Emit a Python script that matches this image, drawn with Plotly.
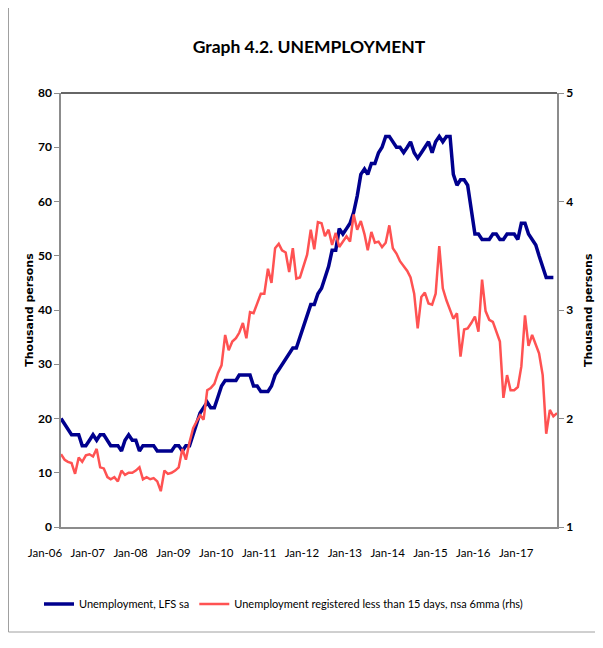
import pandas as pd
import plotly.graph_objects as go

# months from Jan-06
months = pd.date_range("2006-01-01", periods=140, freq="MS")

# Unemployment, LFS sa (thousand persons, lhs)
lfs_sa = [20, 19, 18, 17, 17, 17, 15, 15, 16, 17, 16, 17, 17, 16, 15, 15, 15, 14, 16, 17,
          16, 16, 14, 15, 15, 15, 15, 14, 14, 14, 14, 14, 15, 15, 14, 15, 15, 17, 19, 21,
          22, 23, 22, 22, 24, 26, 27, 27, 27, 27, 28, 28, 28, 28, 26, 26, 25, 25, 25, 26,
          28, 29, 30, 31, 32, 33, 33, 35, 37, 39, 41, 41, 43, 44, 46, 48, 51, 51, 55, 54,
          55, 56, 58, 61, 65, 66, 65, 67, 67, 69, 70, 72, 72, 71, 70, 70, 69, 70, 71, 69,
          68, 69, 70, 71, 69, 71, 72, 71, 72, 72, 65, 63, 64, 64, 63, 58, 54, 54, 53, 53,
          53, 54, 54, 53, 53, 54, 54, 54, 53, 56, 56, 54, 53, 52, 50, 48, 46, 46, 46]

# Unemployment registered less than 15 days, nsa 6mma (thousand persons, rhs)
reg_15d = [1.67, 1.62, 1.60, 1.59, 1.49, 1.64, 1.60, 1.66, 1.67, 1.65, 1.72, 1.55, 1.54, 1.46,
           1.44, 1.46, 1.42, 1.52, 1.48, 1.50, 1.50, 1.52, 1.55, 1.44, 1.46, 1.44, 1.45, 1.42,
           1.33, 1.52, 1.49, 1.50, 1.52, 1.55, 1.72, 1.62, 1.78, 1.91, 1.97, 2.03, 1.99, 2.26,
           2.28, 2.32, 2.42, 2.49, 2.77, 2.63, 2.71, 2.74, 2.79, 2.88, 2.74, 2.98, 2.97, 3.06,
           3.15, 3.15, 3.38, 3.25, 3.57, 3.61, 3.55, 3.53, 3.35, 3.57, 3.29, 3.30, 3.40, 3.51,
           3.74, 3.56, 3.81, 3.80, 3.68, 3.74, 3.60, 3.71, 3.58, 3.63, 3.68, 3.63, 3.88, 3.74,
           3.82, 3.70, 3.55, 3.72, 3.62, 3.63, 3.58, 3.62, 3.78, 3.57, 3.52, 3.45, 3.40, 3.36,
           3.30, 3.15, 2.83, 3.12, 3.16, 3.06, 3.05, 3.15, 3.59, 3.20, 3.09, 3.00, 2.92, 2.97,
           2.57, 2.82, 2.83, 2.88, 2.94, 2.80, 3.28, 2.99, 2.91, 2.89, 2.80, 2.71, 2.19, 2.40,
           2.26, 2.26, 2.29, 2.48, 2.95, 2.67, 2.77, 2.68, 2.60, 2.40, 1.86, 2.08, 2.02, 2.05]

tick_dates = pd.date_range("2006-01-01", "2017-01-01", freq="YS")
tick_text = ["Jan-%02d" % (d.year % 100) for d in tick_dates]

cal = "Lato, Noto Sans, sans-serif"

fig = go.Figure()
fig.add_trace(go.Scatter(x=months[:len(lfs_sa)], y=lfs_sa, mode="lines",
                         name="Unemployment, LFS sa",
                         line=dict(color="#00008e", width=3.5)))
fig.add_trace(go.Scatter(x=months, y=reg_15d, mode="lines", yaxis="y2",
                         name="Unemployment registered less than 15 days, nsa 6mma (rhs)",
                         line=dict(color="#ff5252", width=2.5)))

# page body adds 8px, so margins are 8px smaller on top/left
fig.update_layout(
    width=603, height=648,
    margin=dict(l=53, r=54, t=85, b=129, autoexpand=False),
    paper_bgcolor="white", plot_bgcolor="white",
    title=dict(text="Graph 4.2. UNEMPLOYMENT", x=0.5, xanchor="center",
               xref="paper",
               y=1 - 39 / 648, yanchor="middle", yref="container",
               font=dict(family=cal, size=17.5, color="black", weight="bold")),
    xaxis=dict(type="date", range=[months[0], months[-1]],
               tickvals=tick_dates, ticktext=tick_text, ticks="",
               ticklabelshift=-16, ticklabelstandoff=14,
               tickfont=dict(family=cal, size=11.5, color="black"),
               showgrid=False, showline=True, linecolor="#8c8c8c", linewidth=1.5,
               zeroline=False, automargin=False),
    yaxis=dict(range=[0, 80], dtick=10, ticks="outside", ticklen=5,
               tickcolor="#8c8c8c", showgrid=False, zeroline=False,
               showline=True, linecolor="#8c8c8c", linewidth=1.5, automargin=False,
               tickfont=dict(family=cal, size=12, color="black", weight="bold"),
               title=dict(text="Thousand persons", standoff=2,
                          font=dict(family="DejaVu Sans", size=11, color="black",
                                    weight="bold"))),
    yaxis2=dict(range=[1, 5], dtick=1, overlaying="y", side="right",
                ticks="outside", ticklen=5, tickcolor="#8c8c8c",
                showgrid=False, zeroline=False, automargin=False,
                showline=True, linecolor="#8c8c8c", linewidth=1.5,
                tickfont=dict(family=cal, size=12, color="black", weight="bold")),
    legend=dict(orientation="h", x=-22 / 496, xanchor="left", y=-77 / 434,
                yanchor="middle",
                font=dict(family=cal, size=11, color="black"),
                itemwidth=30, tracegroupgap=0),
)

# right-hand axis title
fig.add_annotation(text="Thousand persons", textangle=-90, xref="paper", yref="paper",
                   x=1, y=0.5, xshift=31, xanchor="center", yanchor="middle",
                   showarrow=False,
                   font=dict(family="DejaVu Sans", size=11, color="black", weight="bold"))

# dark top border of the plot area
fig.add_shape(type="line", xref="paper", yref="paper", x0=0, x1=1, y0=1, y1=1,
              line=dict(color="#333333", width=1.5))

# outer chart frame
fig.add_shape(type="line", xref="paper", yref="paper", x0=-52.5 / 496, x1=-52.5 / 496,
              y0=1 + 86 / 434, y1=-105 / 434, line=dict(color="#a0a0a0", width=1))
fig.add_shape(type="line", xref="paper", yref="paper", x0=-52.5 / 496, x1=537 / 496,
              y0=-105 / 434, y1=-105 / 434, line=dict(color="#a0a0a0", width=1))

fig.write_html("out.html")
